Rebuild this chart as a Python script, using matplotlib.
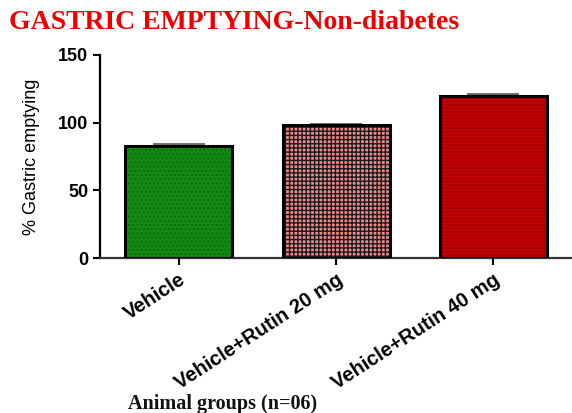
import matplotlib
matplotlib.use("Agg")
import matplotlib.pyplot as plt
import numpy as np

categories = ["Vehicle", "Vehicle+Rutin 20 mg", "Vehicle+Rutin 40 mg"]
values = [83, 98, 120]
errors = [1.5, 1.0, 1.0]
yticks = [0, 50, 100, 150]

fig = plt.figure(figsize=(5.72, 4.13), dpi=100)
ax = fig.add_axes([0.175, 0.375, 0.825, 0.492])

x = np.arange(len(categories))
faces = ["#138a13", "#f08a8a", "#c80000"]
hatches = ["....", "++++", "-----"]
hatchcols = ["#0b6e0b", "#1a1a1a", "#9e0000"]
for i in range(len(categories)):
    ax.bar(x[i], values[i], width=0.68, color=faces[i], edgecolor=hatchcols[i],
           hatch=hatches[i], linewidth=0, zorder=2)
    ax.bar(x[i], values[i], width=0.68, facecolor="none", edgecolor="black",
           linewidth=2.2, zorder=3)
ax.errorbar(x, values, yerr=errors, fmt="none", ecolor="#555555", capsize=19,
            elinewidth=1, capthick=1.2, zorder=1)

ax.set_xlim(-0.5, 2.5)
ax.set_ylim(0, 150)
ax.set_yticks(yticks)
ax.set_yticklabels([str(v) for v in yticks], fontsize=13, fontweight="bold",
                   family="Liberation Sans")
ax.set_xticks(x)
ax.set_xticklabels(categories, rotation=33, ha="right", va="top",
                   rotation_mode="anchor", fontsize=14.5, fontweight="bold",
                   family="Liberation Sans")
for s in ["top", "right"]:
    ax.spines[s].set_visible(False)
ax.spines["left"].set_linewidth(1.6)
ax.spines["bottom"].set_linewidth(1.6)
ax.spines["bottom"].set_color("#333333")
ax.tick_params(axis="both", direction="out", length=5, width=1.5)
ax.set_ylabel("% Gastric emptying", fontsize=13, family="Liberation Sans",
              labelpad=13)

fig.text(0.016, 0.945, "GASTRIC EMPTYING-Non-diabetes", color="#ee0000",
         fontsize=20, fontweight="bold", family="Liberation Serif",
         ha="left", va="center")
fig.text(0.224, 0.022, "Animal groups (n=06)", color="#111111",
         fontsize=14.5, fontweight="bold", family="Liberation Serif",
         ha="left", va="center")

fig.savefig("out.png", dpi=100)
